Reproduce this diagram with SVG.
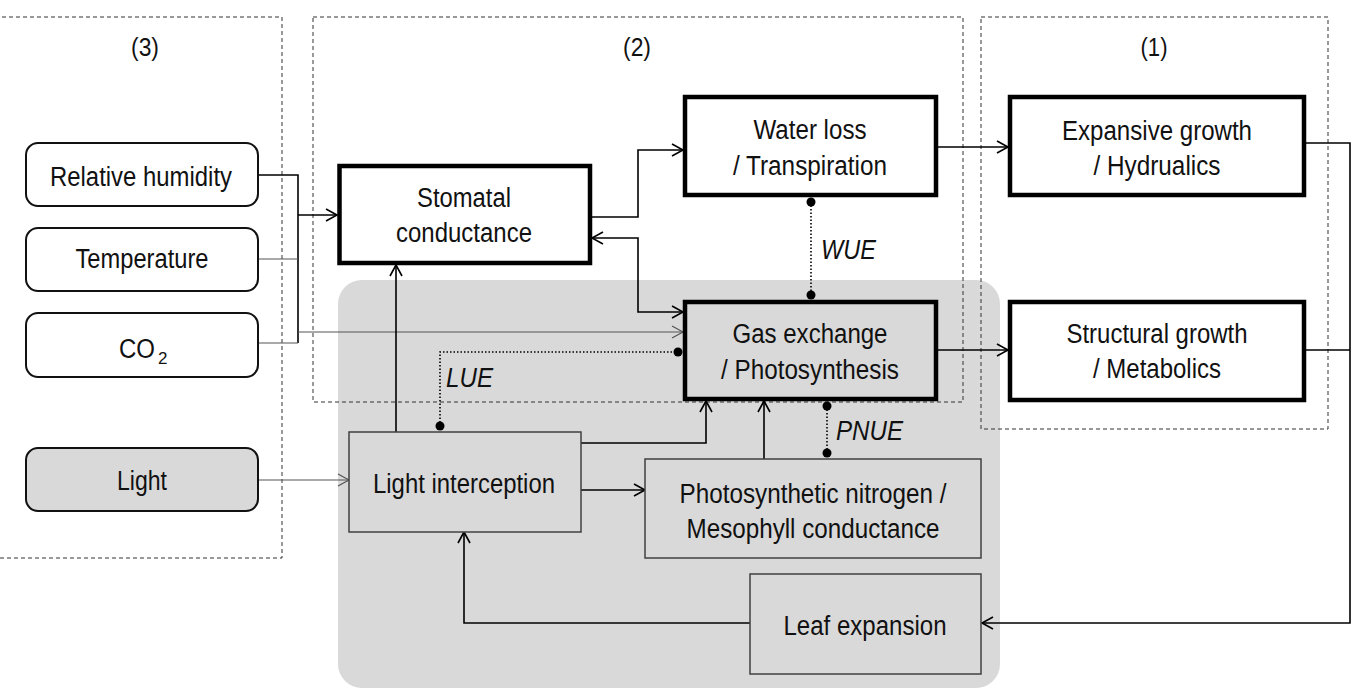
<svg xmlns="http://www.w3.org/2000/svg" width="1356" height="690" viewBox="0 0 1356 690">
<defs>
<style>
text{font-family:"Liberation Sans",Arial,sans-serif;font-size:27px;fill:#111;text-anchor:middle}
.lbl{font-size:26px}
.it{font-style:italic;text-anchor:start}
.st{text-anchor:start}
.panel{fill:none;stroke:#333;stroke-width:1;stroke-dasharray:4 3}
.thick{fill:#fff;stroke:#000;stroke-width:4.5}
.thickg{fill:#d9d9d9;stroke:#000;stroke-width:4.5}
.thin{fill:#d9d9d9;stroke:#404040;stroke-width:1.5}
.inp{fill:#fff;stroke:#111;stroke-width:2}
.inpg{fill:#d9d9d9;stroke:#111;stroke-width:2}
.c{fill:none;stroke:#000;stroke-width:1.6}
.cg{fill:none;stroke:#555;stroke-width:1.2}
.dot{fill:none;stroke:#000;stroke-width:1.6;stroke-dasharray:1.5 2}
</style>
<marker id="ar" markerUnits="userSpaceOnUse" markerWidth="14" markerHeight="16" refX="12" refY="7" orient="auto-start-reverse" viewBox="0 0 14 14">
<path d="M1,1 L12,7 L1,13" fill="none" stroke="#000" stroke-width="1.6"/>
</marker>
<marker id="arg" markerUnits="userSpaceOnUse" markerWidth="14" markerHeight="16" refX="12" refY="7" orient="auto" viewBox="0 0 14 14">
<path d="M1,1 L12,7 L1,13" fill="none" stroke="#555" stroke-width="1.2"/>
</marker>
</defs>
<rect width="1356" height="690" fill="#fff"/>
<rect id="shade" x="338" y="280" width="662" height="408" rx="24" fill="#d9d9d9"/>
<g id="panels">
<rect class="panel" x="-5" y="17" width="287" height="541"/>
<rect class="panel" x="313" y="17" width="650" height="385"/>
<rect class="panel" x="981" y="17" width="347" height="412"/>
<text class="lbl" x="145" y="56" textLength="28" lengthAdjust="spacingAndGlyphs">(3)</text>
<text class="lbl" x="637" y="56" textLength="28" lengthAdjust="spacingAndGlyphs">(2)</text>
<text class="lbl" x="1154" y="56" textLength="27" lengthAdjust="spacingAndGlyphs">(1)</text>
</g>
<g id="connectors">
<path class="c" d="M258,175 H298 V343"/>
<path class="cg" d="M258,259 H298"/>
<path class="cg" d="M258,343 H298"/>
<path class="c" d="M298,215 H337" marker-end="url(#ar)"/>
<path class="cg" d="M298,332 H683" marker-end="url(#arg)"/>
<path class="c" d="M592,217 H638 V150 H683" marker-end="url(#ar)"/>
<path class="c" d="M683,312 H638 V238 H592" marker-start="url(#ar)" marker-end="url(#ar)"/>
<path class="c" d="M396,432 V265" marker-end="url(#ar)"/>
<path class="c" d="M581,443 H706 V401" marker-end="url(#ar)"/>
<path class="c" d="M581,490 H645" marker-end="url(#ar)"/>
<path class="c" d="M764,459 V401" marker-end="url(#ar)"/>
<path class="c" d="M938,147 H1008" marker-end="url(#ar)"/>
<path class="c" d="M938,350 H1008" marker-end="url(#ar)"/>
<path class="c" d="M1306,143 H1350 V623 H982" marker-end="url(#ar)"/>
<path class="c" d="M1306,350 H1350"/>
<path class="c" d="M750,623 H464 V532" marker-end="url(#ar)"/>
<path class="cg" d="M258,480 H349" marker-end="url(#arg)"/>
<path class="dot" d="M440,426 V352 H678"/>
<path class="dot" d="M811,202 V295"/>
<path class="dot" d="M827,406 V453"/>
<circle cx="440" cy="426" r="4.5"/>
<circle cx="678" cy="352" r="4.5"/>
<circle cx="811" cy="202" r="4.5"/>
<circle cx="811" cy="295" r="4.5"/>
<circle cx="827" cy="406" r="4.5"/>
<circle cx="827" cy="453" r="4.5"/>
<text class="it" x="446" y="387" textLength="47" lengthAdjust="spacingAndGlyphs">LUE</text>
<text class="it" x="821" y="259" textLength="55" lengthAdjust="spacingAndGlyphs">WUE</text>
<text class="it" x="836" y="440" textLength="67" lengthAdjust="spacingAndGlyphs">PNUE</text>
</g>
<g id="rh"><rect class="inp" x="26" y="143" width="232" height="63" rx="12"/><text x="141" y="186" textLength="182" lengthAdjust="spacingAndGlyphs">Relative humidity</text></g>
<g id="temp"><rect class="inp" x="26" y="228" width="232" height="63" rx="12"/><text x="142" y="268" textLength="133" lengthAdjust="spacingAndGlyphs">Temperature</text></g>
<g id="co2"><rect class="inp" x="26" y="313" width="232" height="64" rx="12"/><text class="st" x="119" y="358"><tspan textLength="36" lengthAdjust="spacingAndGlyphs">CO</tspan><tspan font-size="17" dx="3" dy="6">2</tspan></text></g>
<g id="light"><rect class="inpg" x="26" y="448" width="232" height="63" rx="12"/><text x="142" y="490" textLength="50" lengthAdjust="spacingAndGlyphs">Light</text></g>
<g id="stomatal"><rect class="thick" x="339.5" y="166" width="250.5" height="97"/><text x="464" y="207" textLength="94" lengthAdjust="spacingAndGlyphs">Stomatal</text><text x="464" y="242" textLength="136" lengthAdjust="spacingAndGlyphs">conductance</text></g>
<g id="water"><rect class="thick" x="685" y="97" width="251" height="98"/><text x="810" y="139" textLength="113" lengthAdjust="spacingAndGlyphs">Water loss</text><text x="810" y="175" textLength="154" lengthAdjust="spacingAndGlyphs">/ Transpiration</text></g>
<g id="gas"><rect class="thickg" x="685" y="302" width="251" height="97"/><text x="810" y="343" textLength="155" lengthAdjust="spacingAndGlyphs">Gas exchange</text><text x="810" y="379" textLength="178" lengthAdjust="spacingAndGlyphs">/ Photosynthesis</text></g>
<g id="expansive"><rect class="thick" x="1010" y="97" width="294" height="98"/><text x="1157" y="140" textLength="190" lengthAdjust="spacingAndGlyphs">Expansive growth</text><text x="1157" y="175" textLength="127" lengthAdjust="spacingAndGlyphs">/ Hydrualics</text></g>
<g id="structural"><rect class="thick" x="1010" y="302" width="294" height="98"/><text x="1157" y="343" textLength="181" lengthAdjust="spacingAndGlyphs">Structural growth</text><text x="1157" y="378" textLength="128" lengthAdjust="spacingAndGlyphs">/ Metabolics</text></g>
<g id="lightint"><rect class="thin" x="349" y="432" width="232" height="100"/><text x="464" y="493" textLength="182" lengthAdjust="spacingAndGlyphs">Light interception</text></g>
<g id="photon"><rect class="thin" x="645" y="459" width="336" height="99"/><text x="813" y="503" textLength="267" lengthAdjust="spacingAndGlyphs">Photosynthetic nitrogen /</text><text x="813" y="538" textLength="253" lengthAdjust="spacingAndGlyphs">Mesophyll conductance</text></g>
<g id="leaf"><rect class="thin" x="750" y="574" width="231" height="100"/><text x="865" y="635" textLength="163" lengthAdjust="spacingAndGlyphs">Leaf expansion</text></g>
</svg>
